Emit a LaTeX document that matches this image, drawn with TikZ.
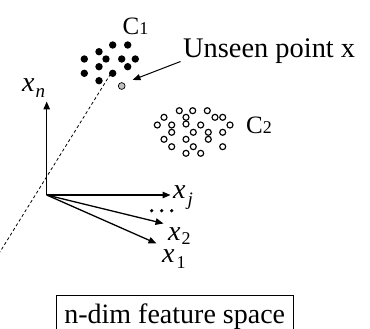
\documentclass[tikz,border=0pt]{standalone}
\usepackage{fontspec}
\setmainfont{Liberation Serif}
\usetikzlibrary{arrows.meta}
\begin{document}
\begin{tikzpicture}[x=1pt,y=-1pt,
  axis/.style={line width=1.3pt,-{Triangle[length=8pt,width=6.5pt]}},
  fdot/.style={circle,fill=black,inner sep=0pt,minimum size=7.4pt},
  sdot/.style={circle,fill=black,inner sep=0pt,minimum size=3.6pt},
  odot/.style={circle,draw=black,line width=1.15pt,inner sep=0pt,minimum size=6pt},
  gdot/.style={circle,draw=black,line width=0.7pt,fill=black!25,inner sep=0pt,minimum size=6.8pt},
  lbl/.style={inner sep=0pt,anchor=base west,font=\fontsize{28}{30}\selectfont},
  clbl/.style={inner sep=0pt,anchor=base west,font=\fontsize{25}{27}\selectfont}]
\useasboundingbox (0,0) rectangle (370,329);
\clip (0,0) rectangle (370,329);

% axes
\coordinate (O) at (46.7,195);
\coordinate (An) at (46.7,101.5);
\coordinate (Aj) at (170.5,195);
\coordinate (A2) at (163.5,223.5);
\coordinate (A1) at (156.5,243.5);
\draw[axis] (O) -- (An);
\draw[axis] (O) -- (Aj);
\draw[axis] (O) -- (A2);
\draw[axis] (O) -- (A1);

% axis labels
\node[lbl] (ln) at (22,92) {\textit{x}\kern1pt\raisebox{-6pt}{\fontsize{19}{20}\selectfont\textit{n}}};
\node[lbl] (lj) at (173,198) {\textit{x}\kern2pt\raisebox{-7pt}{\fontsize{19}{20}\selectfont\textit{j}}};
\node[lbl] (l2) at (168,240) {\textit{x}\kern1pt\raisebox{-5pt}{\fontsize{18}{20}\selectfont 2}};
\node[lbl] (l1) at (162,262) {\textit{x}\kern2pt\raisebox{-6pt}{\fontsize{18}{20}\selectfont 1}};

% dots
\node[sdot] (d1) at (151.7,210.7) {};
\node[sdot] (d2) at (161.7,210.7) {};
\node[sdot] (d3) at (171.7,210.7) {};

% dashed line
\coordinate (dA) at (110.5,74);
\coordinate (dB) at (-1,253.5);
\draw[line width=0.8pt,dash pattern=on 3pt off 2.5pt] (dA) -- (dB);

% cluster C1
\foreach \p in {(112.7,45),(127.7,45),(99,51.7),(84.3,59),(106,59),(121.7,59),(135.3,59),(99,66.7),(127.7,66.7),(84.3,73.3),(112.7,73.3),(99,80.7)}
  \node[fdot] at \p {};
\node[clbl] (c1) at (122.5,35) {C{\fontsize{18}{19}\selectfont 1}};

% unseen point
\node[gdot] (g) at (121.7,86) {};
\coordinate (us) at (180.5,61.5);
\coordinate (ue) at (132.5,80);
\draw[line width=1pt,-{Triangle[length=8pt,width=6pt]}] (us) -- (ue);
\node[lbl,font=\fontsize{28.4}{30}\selectfont] (ut) at (183,58) {Unseen point x};

% cluster C2
\foreach \p in {(179.3,110.7),(192.7,110.7),(207.3,110.7),(164,117.3),(186,117.3),(215,117.3),(222.7,117.3),(157.3,125),(171.7,125),(186,124),(200.7,125),(230,125),(171.7,132.3),(193.3,132.3),(208.3,132.3),(222.7,132.3),(164,139.3),(186,139.3),(208.3,139.3),(171.7,146.7),(193.3,146.7),(222.7,146.7),(186,153.3),(200.7,153.3)}
  \node[odot] at \p {};
\node[clbl] (c2) at (246,133) {C{\fontsize{18}{19}\selectfont 2}};

% caption box
\node[draw,line width=0.9pt,inner sep=0pt,anchor=base,text height=28pt,text depth=14pt,minimum width=237pt,font=\fontsize{28}{30}\selectfont] (cap) at (174.7,323) {n-dim feature space};
\end{tikzpicture}
\end{document}
